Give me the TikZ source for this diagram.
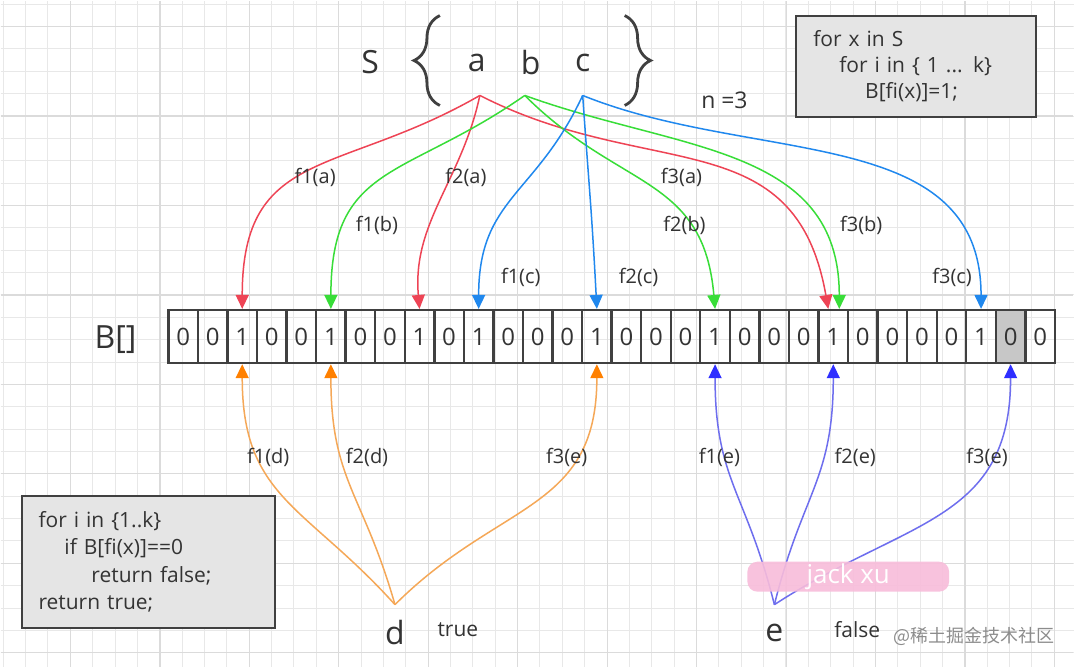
\documentclass[tikz,border=0pt]{standalone}
\usepackage{fontspec}
\setmainfont{Open Sans}
\newfontfamily\cjkfont{Noto Sans CJK SC}
\usetikzlibrary{arrows.meta,decorations.pathreplacing}
\definecolor{hred}{HTML}{EE4455}
\definecolor{hgreen}{HTML}{38DD38}
\definecolor{hblue}{HTML}{2088EE}
\definecolor{horange}{HTML}{F5A858}
\definecolor{horangetip}{HTML}{FF8000}
\definecolor{hviolet}{HTML}{6E6EEE}
\definecolor{hviolettip}{HTML}{2E2EFF}
\definecolor{hpink}{HTML}{F8BCDA}
\definecolor{ink}{HTML}{333333}

\begin{document}
\begin{tikzpicture}[
	x=0.5pt, y=0.5pt,
	every node/.style = {text=ink},
	big/.style = {font=\fontsize{16}{18}\selectfont, inner sep=0pt},
	cell/.style = {
		draw=black!75, line width=1.2pt, inner sep=0pt,
		minimum width=14.8pt, minimum height=26.5pt,
		font=\fontsize{12}{14}\selectfont},
	hashlbl/.style = {font=\fontsize{10}{12}\selectfont, inner sep=0pt},
	codebox/.style = {
		draw=black!75, line width=1pt, fill=black!10,
		anchor=north west, align=left, inner xsep=8.5pt, inner ysep=0pt},
	hit/.style = {line width=0.75pt, draw=#1, looseness=1.2,
		-{Triangle[length=7pt,width=6.5pt,color=#1]}},
	hitup/.style 2 args = {line width=0.75pt, draw=#1, looseness=1.2,
		-{Triangle[length=7pt,width=6.5pt,color=#2]}}]

	\fill[white] (0,0) rectangle (1074,-667);
	\draw[black!9, line width=0.5pt, step=11.2pt, shift={(2.6,-3.6)}] (-2.6,-664) grid (1072,3.6);
	\draw[black!14, line width=0.6pt, step=44.8pt, shift={(70,-26)}] (-70,-641) grid (1004,26);
	\useasboundingbox (0,0) rectangle (1074,-667);

	\node[big] (S) at (370,-62) {S};
	\node[big] (a) at (477,-62) {a};
	\node[big] (b) at (531,-62) {b};
	\node[big] (c) at (583,-62) {c};
	\draw[black!75, line width=1.4pt, decorate, decoration={brace, amplitude=13pt}] (440,-105) -- (440,-15);
	\draw[black!75, line width=1.4pt, decorate, decoration={brace, amplitude=13pt}] (625,-15) -- (625,-105);
	\node[font=\fontsize{11.5}{13}\selectfont] (n) at (725,-100) {n =3};
	\coordinate (sa) at (480,-95);
	\coordinate (sb) at (525,-95);
	\coordinate (sc) at (583,-95);

	\node[codebox, minimum height=51pt, text width=103pt, font=\fontsize{10.5}{13}\selectfont] (insert) at (796,-14) {%
		for x in S\\
		\hspace*{13pt}for i in \{ 1 ... k\}\\
		\hspace*{26pt}B[fi(x)]=1;};

	\node[big] (B) at (115,-340) {B[]};
	\foreach \v [count=\i from 0] in {0,0,1,0,0,1,0,0,1,0,1,0,0,0,1,0,0,0,1,0,0,0,1,0,0,0,0,1,0,0}
		\node[cell] (c\i) at ({168+29.6*(\i+0.5)},-336.5) {\v};
	\node[cell, fill=black!22] (c28) at ({168+29.6*28.5},-336.5) {0};

	\draw[hit=hred] (sa) to[out=210, in=90, looseness=1.3] (c2.north);
	\draw[hit=hred] (sa) to[out=258, in=95, looseness=1] (c8.north);
	\draw[hit=hred] (sa) to[out=-27, in=100] ([xshift=-2.5pt]c22.north);
	\draw[hit=hgreen] (sb) to[out=215, in=90, looseness=1.3] (c5.north);
	\draw[hit=hgreen] (sb) to[out=-45, in=95] (c18.north);
	\draw[hit=hgreen] (sb) to[out=-20, in=90, looseness=1.1] ([xshift=3pt]c22.north);
	\draw[hit=hblue] (sc) to[out=245, in=90] (c10.north);
	\draw[hit=hblue] (sc) to[out=-86, in=93] (c14.north);
	\draw[hit=hblue] (sc) to[out=-22, in=90, looseness=1.05] (c27.north);

	\node[hashlbl] (f1a) at (315,-177) {f1(a)};
	\node[hashlbl] (f2a) at (466,-177) {f2(a)};
	\node[hashlbl] (f3a) at (682,-177) {f3(a)};
	\node[hashlbl] (f1b) at (377,-225) {f1(b)};
	\node[hashlbl] (f2b) at (685,-225) {f2(b)};
	\node[hashlbl] (f3b) at (862,-225) {f3(b)};
	\node[hashlbl] (f1c) at (521,-277) {f1(c)};
	\node[hashlbl] (f2c) at (639,-277) {f2(c)};
	\node[hashlbl] (f3c) at (953,-277) {f3(c)};

	\node[big] (d) at (395,-633) {d};
	\node[font=\fontsize{10.5}{12}\selectfont] (true) at (458,-630) {true};
	\node[big] (e) at (775,-633) {e};
	\node[font=\fontsize{10.5}{12}\selectfont] (false) at (858,-630) {false};
	\coordinate (sd) at (395,-605);
	\coordinate (se) at (775,-605);

	\draw[hitup={horange}{horangetip}] (sd) to[out=132, in=270] (c2.south);
	\draw[hitup={horange}{horangetip}] (sd) to[out=106, in=270] (c5.south);
	\draw[hitup={horange}{horangetip}] (sd) to[out=45, in=270] (c14.south);
	\draw[hitup={hviolet}{hviolettip}] (se) to[out=104, in=270] (c18.south);
	\draw[hitup={hviolet}{hviolettip}] (se) to[out=76, in=270] (c22.south);
	\draw[hitup={hviolet}{hviolettip}] (se) to[out=33, in=270] (c28.south);

	\node[hashlbl] (f1d) at (268,-458) {f1(d)};
	\node[hashlbl] (f2d) at (367,-458) {f2(d)};
	\node[hashlbl] (f3d) at (567,-458) {f3(e)};
	\node[hashlbl] (f1e) at (720,-458) {f1(e)};
	\node[hashlbl] (f2e) at (856,-458) {f2(e)};
	\node[hashlbl] (f3e) at (988,-458) {f3(e)};

	\node[codebox, minimum height=66pt, text width=110pt, font=\fontsize{10.5}{13.8}\selectfont] (query) at (20,-495) {%
		for i in \{1..k\}\\
		\hspace*{13pt}if B[fi(x)]==0\\
		\hspace*{26.5pt}return false;\\
		return true;};

	\node[fill=hpink, fill opacity=0.9, text opacity=1, text=white, rounded corners=5pt,
		minimum width=101pt, minimum height=15pt, inner sep=0pt,
		font=\fontsize{13}{14}\selectfont] (author) at (849,-577) {jack xu};
	\node[text=black!45, inner sep=0pt, font=\cjkfont\fontsize{9}{11}\selectfont] (site) at (975,-637) {@稀土掘金技术社区};
\end{tikzpicture}
\end{document}
